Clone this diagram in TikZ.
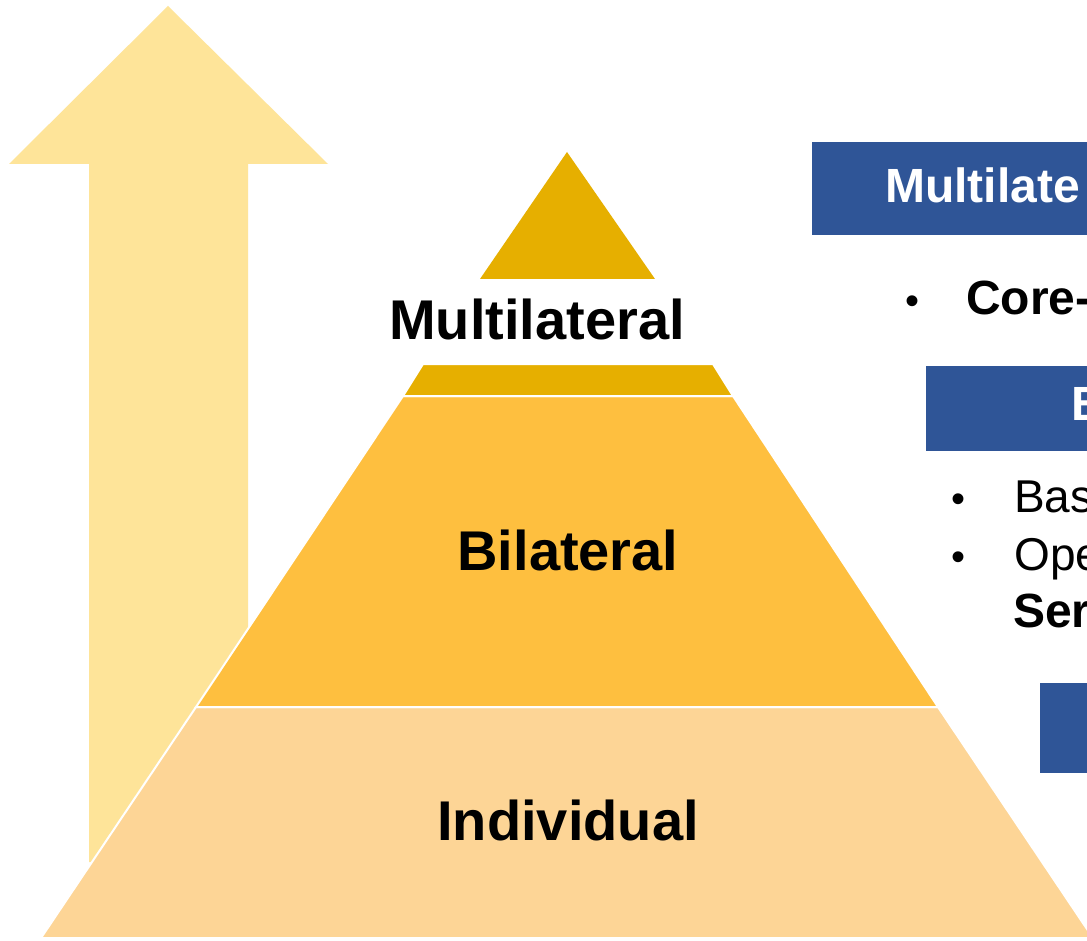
\documentclass[tikz,border=0pt]{standalone}
\usepackage{fontspec}
\setmainfont{Liberation Sans}
\definecolor{arrowc}{HTML}{FEE499}
\definecolor{topc}{HTML}{E6AF00}
\definecolor{midc}{HTML}{FEBF3F}
\definecolor{lowc}{HTML}{FDD596}
\definecolor{bluec}{HTML}{2F5597}
\tikzset{
  band/.style={draw=white, line width=2pt, line join=miter},
  lvl/.style={anchor=base, font=\fontsize{56}{60}\selectfont\bfseries, inner sep=0pt},
  hdr/.style={anchor=base west, font=\fontsize{48}{52}\selectfont\bfseries, text=white, inner sep=0pt},
  bodyb/.style={anchor=base west, font=\fontsize{48}{52}\selectfont\bfseries, inner sep=0pt},
  bodyr/.style={anchor=base west, font=\fontsize{46}{50}\selectfont, inner sep=0pt},
  bul/.style={anchor=base, font=\fontsize{40}{44}\selectfont, inner sep=0pt},
  bluebox/.style={fill=bluec, draw=none}
}
\begin{document}
\begin{tikzpicture}[x=1pt, y=-1pt]
\useasboundingbox (0,0) rectangle (1087,941);
\clip (0,0) rectangle (1087,941);
\fill[white] (0,0) rectangle (1087,941);
% arrow
\fill[arrowc] (168,6) -- (328,164) -- (248,164) -- (248,862) -- (89,862) -- (89,164) -- (9,164) -- cycle;
% pyramid
\filldraw[band, fill=lowc] (196,707) -- (938,707) -- (1093,938) -- (41,938) -- cycle;
\filldraw[band, fill=midc] (403,396) -- (733,396) -- (938,707) -- (196,707) -- cycle;
\filldraw[band, fill=topc] (423,364) -- (713,364) -- (733,396) -- (403,396) -- cycle;
\fill[topc] (567,152) -- (655,279) -- (480,279) -- cycle;
% level labels
\node[lvl] (multi) at (537,339) {Multilateral};
\node[lvl] (bi) at (568,570) {Bilateral};
\node[lvl] (ind) at (568,840) {Individual};
% right side boxes
\fill[bluebox] (812,142) rectangle (1100,235);
\node[hdr] (h1) at (885,203) {Multilate};
\node[bul] (b1) at (912,315) {•};
\node[bodyb] (t1) at (966,315) {Core-};
\fill[bluebox] (926,366) rectangle (1100,451);
\node[hdr] (h2) at (1071,420) {B};
\node[bul] (b2) at (958,512) {•};
\node[bodyr] (t2) at (1014,512) {Bas};
\node[bul] (b3) at (958,570) {•};
\node[bodyr] (t3) at (1014,570) {Ope};
\node[bodyb] (t4) at (1013,627) {Ser};
\fill[bluebox] (1040,683) rectangle (1100,773);
\end{tikzpicture}
\end{document}
